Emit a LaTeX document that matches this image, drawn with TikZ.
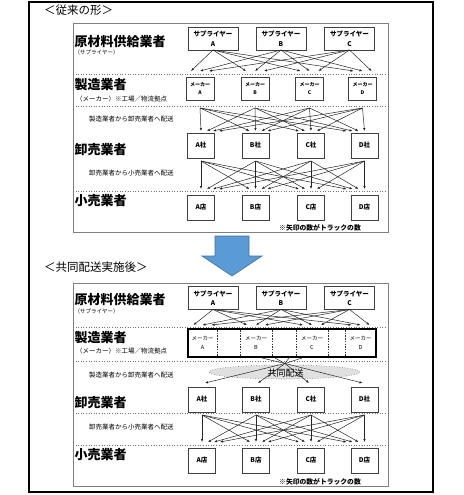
\documentclass[tikz,border=0pt]{standalone}
\usepackage{fontspec}
\setmainfont{Noto Sans CJK JP}
\usetikzlibrary{arrows.meta,calc,shapes.geometric}
\begin{document}
\begin{tikzpicture}[x=1pt,y=-1pt,
  frame/.style={draw=black,line width=2pt},
  panel/.style={draw=black!50,line width=0.8pt},
  dotline/.style={draw=black!55,line width=0.6pt,dotted},
  box/.style={draw=black!75,line width=0.7pt,fill=white,inner sep=0pt,outer sep=0pt,align=center},
  supbox/.style={box,minimum width=50pt,minimum height=23pt,font=\bfseries\fontsize{6.5}{9.5}\selectfont},
  makbox/.style={box,minimum width=28pt,minimum height=23pt,font=\bfseries\fontsize{5}{8.5}\selectfont},
  orgbox/.style={box,minimum width=27pt,minimum height=25pt,font=\bfseries\fontsize{6.5}{8}\selectfont},
  mlab/.style={inner sep=0pt,outer sep=0pt,minimum height=28pt,align=center,font=\fontsize{5.5}{8.5}\selectfont},
  biglab/.style={anchor=west,inner sep=0pt,font=\bfseries\fontsize{13}{13}\selectfont},
  smalllab/.style={anchor=west,inner sep=0pt,font=\fontsize{5.5}{6}\selectfont},
  notelab/.style={anchor=west,inner sep=0pt,font=\fontsize{6.5}{7}\selectfont},
  titlelab/.style={anchor=west,inner sep=0pt,font=\fontsize{11.5}{12}\selectfont},
  arr/.style={draw=black!85,line width=0.5pt,-{Latex[length=3pt,width=2.4pt]}},
  ln/.style={draw=black!85,line width=0.5pt}
]
\useasboundingbox (0,0) rectangle (463,495);
\fill[white] (0,0) rectangle (463,495);
\draw[frame] (29,2.5) rectangle (433,491.5);

% ===== top part =====
\node[titlelab] (title1) at (44,10) {＜従来の形＞};
\draw[panel] (73,23) rectangle (388,232);
\draw[dotline] (73,74) -- (388,74);
\draw[dotline] (73,106.5) -- (388,106.5);
\draw[dotline] (73,191) -- (388,191);

\node[biglab] (tl1) at (74.5,42) {原材料供給業者};
\node[smalllab] (tl1s) at (74.5,52.5) {（サプライヤー）};
\node[biglab] (tl2) at (74.5,85) {製造業者};
\node[notelab] (tl2s) at (76,99) {（メーカー）※工場／物流拠点};
\node[notelab] (tl3) at (89,119) {製造業者から卸売業者へ配送};
\node[biglab] (tl4) at (74.5,149.5) {卸売業者};
\node[notelab] (tl5) at (89,173) {卸売業者から小売業者へ配送};
\node[biglab] (tl6) at (74.5,201) {小売業者};
\node[notelab,font=\bfseries\fontsize{6.8}{7}\selectfont] (tnote) at (279,228) {※矢印の数がトラックの数};

\node[supbox] (tsupA) at (213,38.5) {サプライヤー\\A};
\node[supbox] (tsupB) at (281,38.5) {サプライヤー\\B};
\node[supbox] (tsupC) at (349.5,38.5) {サプライヤー\\C};

\node[makbox] (tmakA) at (200,88.5) {メーカー\\A};
\node[makbox] (tmakB) at (255,88.5) {メーカー\\B};
\node[makbox] (tmakC) at (309.5,88.5) {メーカー\\C};
\node[makbox] (tmakD) at (362.5,88.5) {メーカー\\D};

\node[orgbox] (twhA) at (201,145.5) {A社};
\node[orgbox] (twhB) at (255.5,145.5) {B社};
\node[orgbox] (twhC) at (311,145.5) {C社};
\node[orgbox] (twhD) at (364.5,145.5) {D社};

\node[orgbox] (tretA) at (201,207.5) {A店};
\node[orgbox] (tretB) at (255.5,207.5) {B店};
\node[orgbox] (tretC) at (311,207.5) {C店};
\node[orgbox] (tretD) at (364.5,207.5) {D店};

\foreach \s [count=\i from 0] in {A,B,C}{
  \foreach \d in {A,B,C,D}{
    \draw[arr] (tsup\s.south) -- ([xshift={(\i-1)*9pt},yshift=6pt]tmak\d.north);
  }
}
\foreach \s [count=\i from 0] in {A,B,C,D}{
  \foreach \d [count=\j from 0] in {A,B,C,D}{
    \draw[arr] ([yshift=-8pt]tmak\s.south) -- ([xshift={(\i-\j)*6pt},yshift=2pt]twh\d.north);
    \draw[arr] ([yshift=-3pt]twh\s.south) -- ([xshift={(\i-\j)*6pt},yshift=6pt]tret\d.north);
  }
}

% ===== blue arrow =====
\draw[fill={rgb,255:red,91;green,155;blue,213},draw={rgb,255:red,65;green,113;blue,156},line width=0.6pt]
  (215,236) -- (249,236) -- (249,256) -- (262,256) -- (232,276) -- (202,256) -- (215,256) -- cycle;

% ===== bottom part =====
\node[titlelab] (title2) at (44,267) {＜共同配送実施後＞};
\draw[panel] (73,283) rectangle (388,486);
\draw[dotline] (73,327) -- (388,327);
\draw[dotline] (73,361) -- (388,361);
\draw[dotline] (73,413) -- (388,413);
\draw[dotline] (73,445) -- (388,445);

\node[biglab] (bl1) at (74.5,300) {原材料供給業者};
\node[smalllab] (bl1s) at (74.5,311) {（サプライヤー）};
\node[biglab] (bl2) at (74.5,338) {製造業者};
\node[notelab] (bl2s) at (76,351) {（メーカー）※工場／物流拠点};
\node[notelab] (bl3) at (89,375) {製造業者から卸売業者へ配送};
\node[biglab] (bl4) at (74.5,403) {卸売業者};
\node[notelab] (bl5) at (89,427) {卸売業者から小売業者へ配送};
\node[biglab] (bl6) at (74.5,455) {小売業者};
\node[notelab,font=\bfseries\fontsize{6.8}{7}\selectfont] (bnote) at (279,482) {※矢印の数がトラックの数};

\node[supbox] (bsupA) at (213,298) {サプライヤー\\A};
\node[supbox] (bsupB) at (281,298) {サプライヤー\\B};
\node[supbox] (bsupC) at (349.5,298) {サプライヤー\\C};

\node[draw=black,line width=2pt,fill=white,minimum width=188pt,minimum height=28pt,inner sep=0pt,outer sep=0pt] (bmbox) at (282,343) {};
\foreach \x in {217,240,272,296,328,345}{
  \draw[black!80,line width=0.6pt,dashed,dash pattern=on 1.5pt off 1.2pt] (\x,330) -- (\x,356);
}
\node[mlab] (bmakA) at (202.5,343) {メーカー\\A};
\node[mlab] (bmakB) at (256,343) {メーカー\\B};
\node[mlab] (bmakC) at (312,343) {メーカー\\C};
\node[mlab] (bmakD) at (360.5,343) {メーカー\\D};

\foreach \s [count=\i from 0] in {A,B,C}{
  \foreach \d in {A,B,C,D}{
    \draw[arr] (bsup\s.south) -- ([xshift={(\i-1)*9pt},yshift=4pt]bmak\d.north);
  }
}

\node[ellipse,draw=black!55,dotted,line width=0.6pt,fill=black!12,minimum width=151pt,minimum height=14pt,inner sep=0pt] (ell) at (284.5,372) {};
\coordinate (hub) at (285,363.5);
\foreach \dx in {-20,-7,7,20}{
  \draw[ln] ([xshift=\dx pt,yshift=-1pt]bmbox.south) -- (hub);
}

\node[orgbox] (bwhA) at (202,399.5) {A社};
\node[orgbox] (bwhB) at (256,399.5) {B社};
\node[orgbox] (bwhC) at (311,399.5) {C社};
\node[orgbox] (bwhD) at (364.5,399.5) {D社};

\draw[arr] (hub) -- ([xshift=3pt,yshift=4pt]bwhA.north);
\draw[arr] (hub) -- ([xshift=2pt,yshift=4pt]bwhB.north);
\draw[arr] (hub) -- ([xshift=-2pt,yshift=4pt]bwhC.north);
\draw[arr] (hub) -- ([xshift=-2pt,yshift=4pt]bwhD.north);
\node[inner sep=0pt,font=\fontsize{9}{9}\selectfont] (ellt) at (285.5,373) {共同配送};

\node[orgbox] (bretA) at (202,460.5) {A店};
\node[orgbox] (bretB) at (256,460.5) {B店};
\node[orgbox] (bretC) at (311,460.5) {C店};
\node[orgbox] (bretD) at (364.5,460.5) {D店};

\foreach \s [count=\i from 0] in {A,B,C,D}{
  \foreach \d [count=\j from 0] in {A,B,C,D}{
    \draw[arr] ([yshift=-3pt]bwh\s.south) -- ([xshift={(\i-\j)*6pt},yshift=6pt]bret\d.north);
  }
}
\end{tikzpicture}
\end{document}
